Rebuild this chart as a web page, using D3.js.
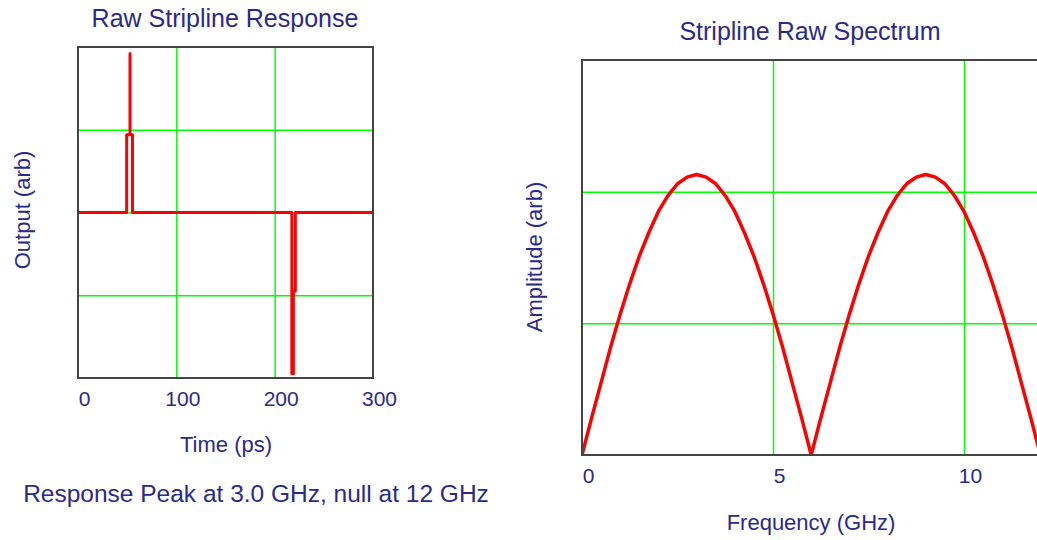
<!DOCTYPE html>
<html>
<head>
<meta charset="utf-8">
<script src="https://cdn.jsdelivr.net/npm/d3@7"></script>
<style>
  html, body { margin: 0; padding: 0; background: #ffffff; overflow: hidden; }
  svg { display: block; }
  text { font-family: "Liberation Sans", Arial, sans-serif; fill: #2a2a8c; }
</style>
</head>
<body>
<svg id="chart" width="1037" height="540"></svg>
<script>
// ---------- Data ----------
// Left chart: raw stripline time response
const timePs   = [0, 49.5, 49.5, 52.9, 52.9, 52.9, 55.4, 55.4, 217.5, 217.5, 219.0, 219.0, 221.0, 221.0, 300];
const outputArb = [0, 0,    0.94, 0.94, 1.92, 0.94, 0.94, 0,   0,     -1.95, -1.95, -0.95, -0.95, 0,    0];
const timeTicks = [0, 100, 200, 300];
const timeGrid = [100, 200];
const outputGrid = [-1, 0, 1];

// Right chart: raw spectrum
const freqGHz = [0, 0.25, 0.5, 0.75, 1, 1.25, 1.5, 1.75, 2, 2.25, 2.5, 2.75, 3, 3.25, 3.5, 3.75, 4, 4.25, 4.5, 4.75, 5, 5.25, 5.5, 5.75, 6,
                 6.25, 6.5, 6.75, 7, 7.25, 7.5, 7.75, 8, 8.25, 8.5, 8.75, 9, 9.25, 9.5, 9.75, 10, 10.25, 10.5, 10.75, 11, 11.25, 11.5, 11.75, 12];
const amplitudeArb = [0, 0.28, 0.55, 0.82, 1.07, 1.30, 1.51, 1.69, 1.85, 1.97, 2.06, 2.11, 2.13, 2.11, 2.06, 1.97, 1.85, 1.69, 1.51, 1.30, 1.07, 0.82, 0.55, 0.28, 0,
                      0.28, 0.55, 0.82, 1.07, 1.30, 1.51, 1.69, 1.85, 1.97, 2.06, 2.11, 2.13, 2.11, 2.06, 1.97, 1.85, 1.69, 1.51, 1.30, 1.07, 0.82, 0.55, 0.28, 0];
const freqTicks = [0, 5, 10];
const freqGrid = [5, 10];
const ampGrid = [1, 2];

// ---------- Drawing ----------
const svg = d3.select("#chart");
const GRID = "#00ff00", LINE = "#ff0000", BORDER = "#444444";

function panel(cfg) {
  const g = svg.append("g");
  const x = d3.scaleLinear().domain(cfg.xDomain).range(cfg.xRange);
  const y = d3.scaleLinear().domain(cfg.yDomain).range(cfg.yRange);
  const clipId = cfg.id + "-clip";
  svg.append("clipPath").attr("id", clipId).append("rect")
    .attr("x", cfg.xRange[0]).attr("y", cfg.yRange[1])
    .attr("width", cfg.xRange[1] - cfg.xRange[0]).attr("height", cfg.yRange[0] - cfg.yRange[1]);

  // vertical grid
  g.append("g").attr("transform", `translate(0,${cfg.yRange[0]})`)
    .call(d3.axisBottom(x).tickValues(cfg.xGrid).tickSize(-(cfg.yRange[0] - cfg.yRange[1])).tickFormat(""))
    .call(s => s.select(".domain").remove())
    .call(s => s.selectAll("line").attr("stroke", GRID).attr("stroke-width", 1.5));
  // horizontal grid
  g.append("g").attr("transform", `translate(${cfg.xRange[0]},0)`)
    .call(d3.axisLeft(y).tickValues(cfg.yGrid).tickSize(-(cfg.xRange[1] - cfg.xRange[0])).tickFormat(""))
    .call(s => s.select(".domain").remove())
    .call(s => s.selectAll("line").attr("stroke", GRID).attr("stroke-width", 1.5));

  // data line
  const pts = cfg.xs.map((v, i) => [v, cfg.ys[i]]);
  g.append("path").datum(pts)
    .attr("clip-path", `url(#${clipId})`)
    .attr("fill", "none").attr("stroke", LINE).attr("stroke-width", cfg.lineWidth)
    .attr("stroke-linejoin", "round")
    .attr("d", d3.line().x(d => x(d[0])).y(d => y(d[1])));

  // border
  g.append("rect")
    .attr("x", cfg.xRange[0]).attr("y", cfg.yRange[1])
    .attr("width", cfg.xRange[1] - cfg.xRange[0]).attr("height", cfg.yRange[0] - cfg.yRange[1])
    .attr("fill", "none").attr("stroke", BORDER).attr("stroke-width", 2);

  // tick labels
  g.append("g").attr("transform", `translate(0,${cfg.tickY})`)
    .call(d3.axisBottom(x).tickValues(cfg.xTicks).tickSize(0).tickPadding(0).tickFormat(d3.format("d")))
    .call(s => s.select(".domain").remove())
    .call(s => s.selectAll("text")
      .attr("dx", 6).attr("dy", 0).attr("y", 0)
      .style("font-size", "21px").attr("fill", "#2a2a8c")
      .style("font-family", "'Liberation Sans', Arial, sans-serif"));

  // titles
  g.append("text").attr("x", cfg.titleX).attr("y", cfg.titleY).attr("text-anchor", "middle")
    .style("font-size", "25px").text(cfg.title);
  g.append("text").attr("x", cfg.xTitleX).attr("y", cfg.xTitleY).attr("text-anchor", "middle")
    .style("font-size", "22px").text(cfg.xTitle);
  g.append("text").attr("transform", `translate(${cfg.yTitleX},${cfg.yTitleY}) rotate(-90)`)
    .attr("text-anchor", "middle").style("font-size", "22px").text(cfg.yTitle);
}

panel({
  id: "left", xDomain: [0, 300], xRange: [78, 373], yDomain: [-2, 2], yRange: [378, 47],
  xGrid: timeGrid, yGrid: outputGrid, xTicks: timeTicks, xs: timePs, ys: outputArb, lineWidth: 3,
  tickY: 406, title: "Raw Stripline Response", titleX: 225, titleY: 27,
  xTitle: "Time (ps)", xTitleX: 226, xTitleY: 452,
  yTitle: "Output (arb)", yTitleX: 30, yTitleY: 210
});

panel({
  id: "right", xDomain: [0, 12.5], xRange: [582, 1059.5], yDomain: [0, 3], yRange: [455, 60],
  xGrid: freqGrid, yGrid: ampGrid, xTicks: freqTicks, xs: freqGHz, ys: amplitudeArb, lineWidth: 3.5,
  tickY: 483, title: "Stripline Raw Spectrum", titleX: 810, titleY: 40,
  xTitle: "Frequency (GHz)", xTitleX: 811, xTitleY: 530,
  yTitle: "Amplitude (arb)", yTitleX: 542, yTitleY: 257
});

svg.append("text").attr("x", 256).attr("y", 502).attr("text-anchor", "middle")
  .style("font-size", "24.5px").text("Response Peak at 3.0 GHz, null at 12 GHz");
</script>
</body>
</html>
